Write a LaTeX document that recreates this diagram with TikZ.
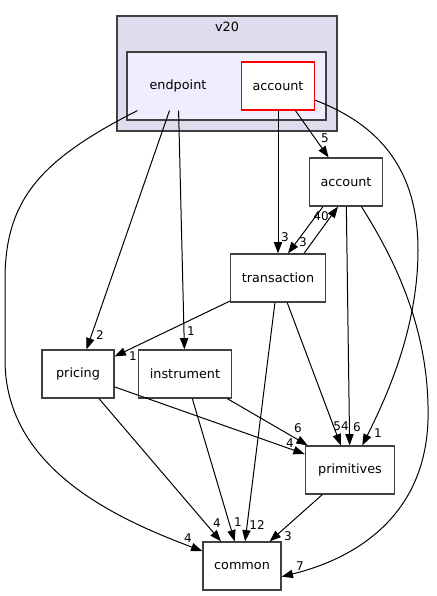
\documentclass[tikz,border=0pt]{standalone}
\usepackage{fontspec}
\setmainfont{DejaVu Sans}
\usepackage{xcolor}
\usepackage{tikz}
\usetikzlibrary{arrows.meta, calc}
\definecolor{clusterouter}{HTML}{DDDDEE}
\definecolor{clusterinner}{HTML}{EEEEFF}
\definecolor{borderdark}{HTML}{404040}
\tikzset{
  dirbox/.style={
    draw=borderdark, line width=0.9pt, fill=white, inner sep=0pt,
    minimum width=#1, minimum height=36pt,
    font=\fontsize{9.6}{11}\selectfont
  },
  dirbox/.default=55pt,
  clusterbox/.style={
    draw=borderdark, line width=0.9pt
  },
  deparrow/.style={
    -{Triangle[length=8.5pt, width=6.2pt]}, line width=0.75pt, black
  },
  deplabel/.style={
    font=\fontsize{9}{10}\selectfont, inner sep=0pt
  },
}

\begin{document}
\begin{tikzpicture}[x=0.75pt, y=-0.75pt]
  \useasboundingbox (0,0) rectangle (436,596);

  % --- Clusters ---
  \draw[clusterbox, fill=clusterouter] (117,16) rectangle (337,131);
  \node[font=\fontsize{9.6}{11}\selectfont] (v20) at (227,27) {v20};
  \draw[clusterbox, fill=clusterinner] (127,52) rectangle (326,120);

  % --- Directories ---
  \node[dirbox=60pt, draw=none, fill=none] (ep) at (178,86) {endpoint};
  \node[dirbox, draw=red] (iacct) at (278,86) {account};
  \node[dirbox] (acct) at (346,182) {account};
  \node[dirbox=71pt] (trans) at (278,278) {transaction};
  \node[dirbox=54pt] (pricing) at (78,374) {pricing};
  \node[dirbox=70pt] (instr) at (185,374) {instrument};
  \node[dirbox=67pt] (prim) at (350,470) {primitives};
  \node[dirbox=58.5pt] (common) at (242,566) {common};

  % --- Dependencies from v20 ---
  \draw[deparrow] (ep.south west) .. controls (40,160) and (5,200) .. (5,280)
    -- (5,360) .. controls (5,470) and (120,520) .. (common)
    node[deplabel] at (188,538) {4};
  \draw[deparrow] (ep) -- (pricing) node[deplabel] at (100,335) {2};
  \draw[deparrow] (ep) -- (instr) node[deplabel] at (191,331) {1};
  \draw[deparrow] (iacct) -- (trans) node[deplabel] at (285,237) {3};
  \draw[deparrow] (iacct) -- (acct) node[deplabel] at (325,138) {5};
  \draw[deparrow] (iacct) .. controls (380,125) and (418,170) .. (418,250)
    .. controls (418,330) and (385,400) .. (prim)
    node[deplabel] at (378,433) {1};

  % --- Other dependencies ---
  \draw[deparrow] ($(acct.south)+(-23,0)$) -- ($(trans.north)+(10,0)$)
    node[deplabel] at (303,242) {3};
  \draw[deparrow] ($(trans.north)+(26,0)$) -- ($(acct.south)+(-8,0)$)
    node[deplabel] at (321,216) {40};
  \draw[deparrow] (acct) -- (prim) node[deplabel] at (357,427) {6};
  \draw[deparrow] (acct) .. controls (395,260) and (430,330) .. (428,420)
    .. controls (425,520) and (350,560) .. (common.-15)
    node[deplabel] at (300,566) {7};
  \draw[deparrow] (trans) -- (pricing) node[deplabel] at (133,356) {1};
  \draw[deparrow] (trans) -- (common) node[deplabel] at (257,525) {12};
  \draw[deparrow] (trans) -- (prim) node[deplabel] at (341,426) {54};
  \draw[deparrow] (pricing) -- (prim) node[deplabel] at (290,443) {4};
  \draw[deparrow] (pricing) -- (common) node[deplabel] at (217,523) {4};
  \draw[deparrow] (instr) -- (prim) node[deplabel] at (298,428) {6};
  \draw[deparrow] (instr) -- (common) node[deplabel] at (238,522) {1};
  \draw[deparrow] (prim) -- (common) node[deplabel] at (288,536) {3};
\end{tikzpicture}
\end{document}
